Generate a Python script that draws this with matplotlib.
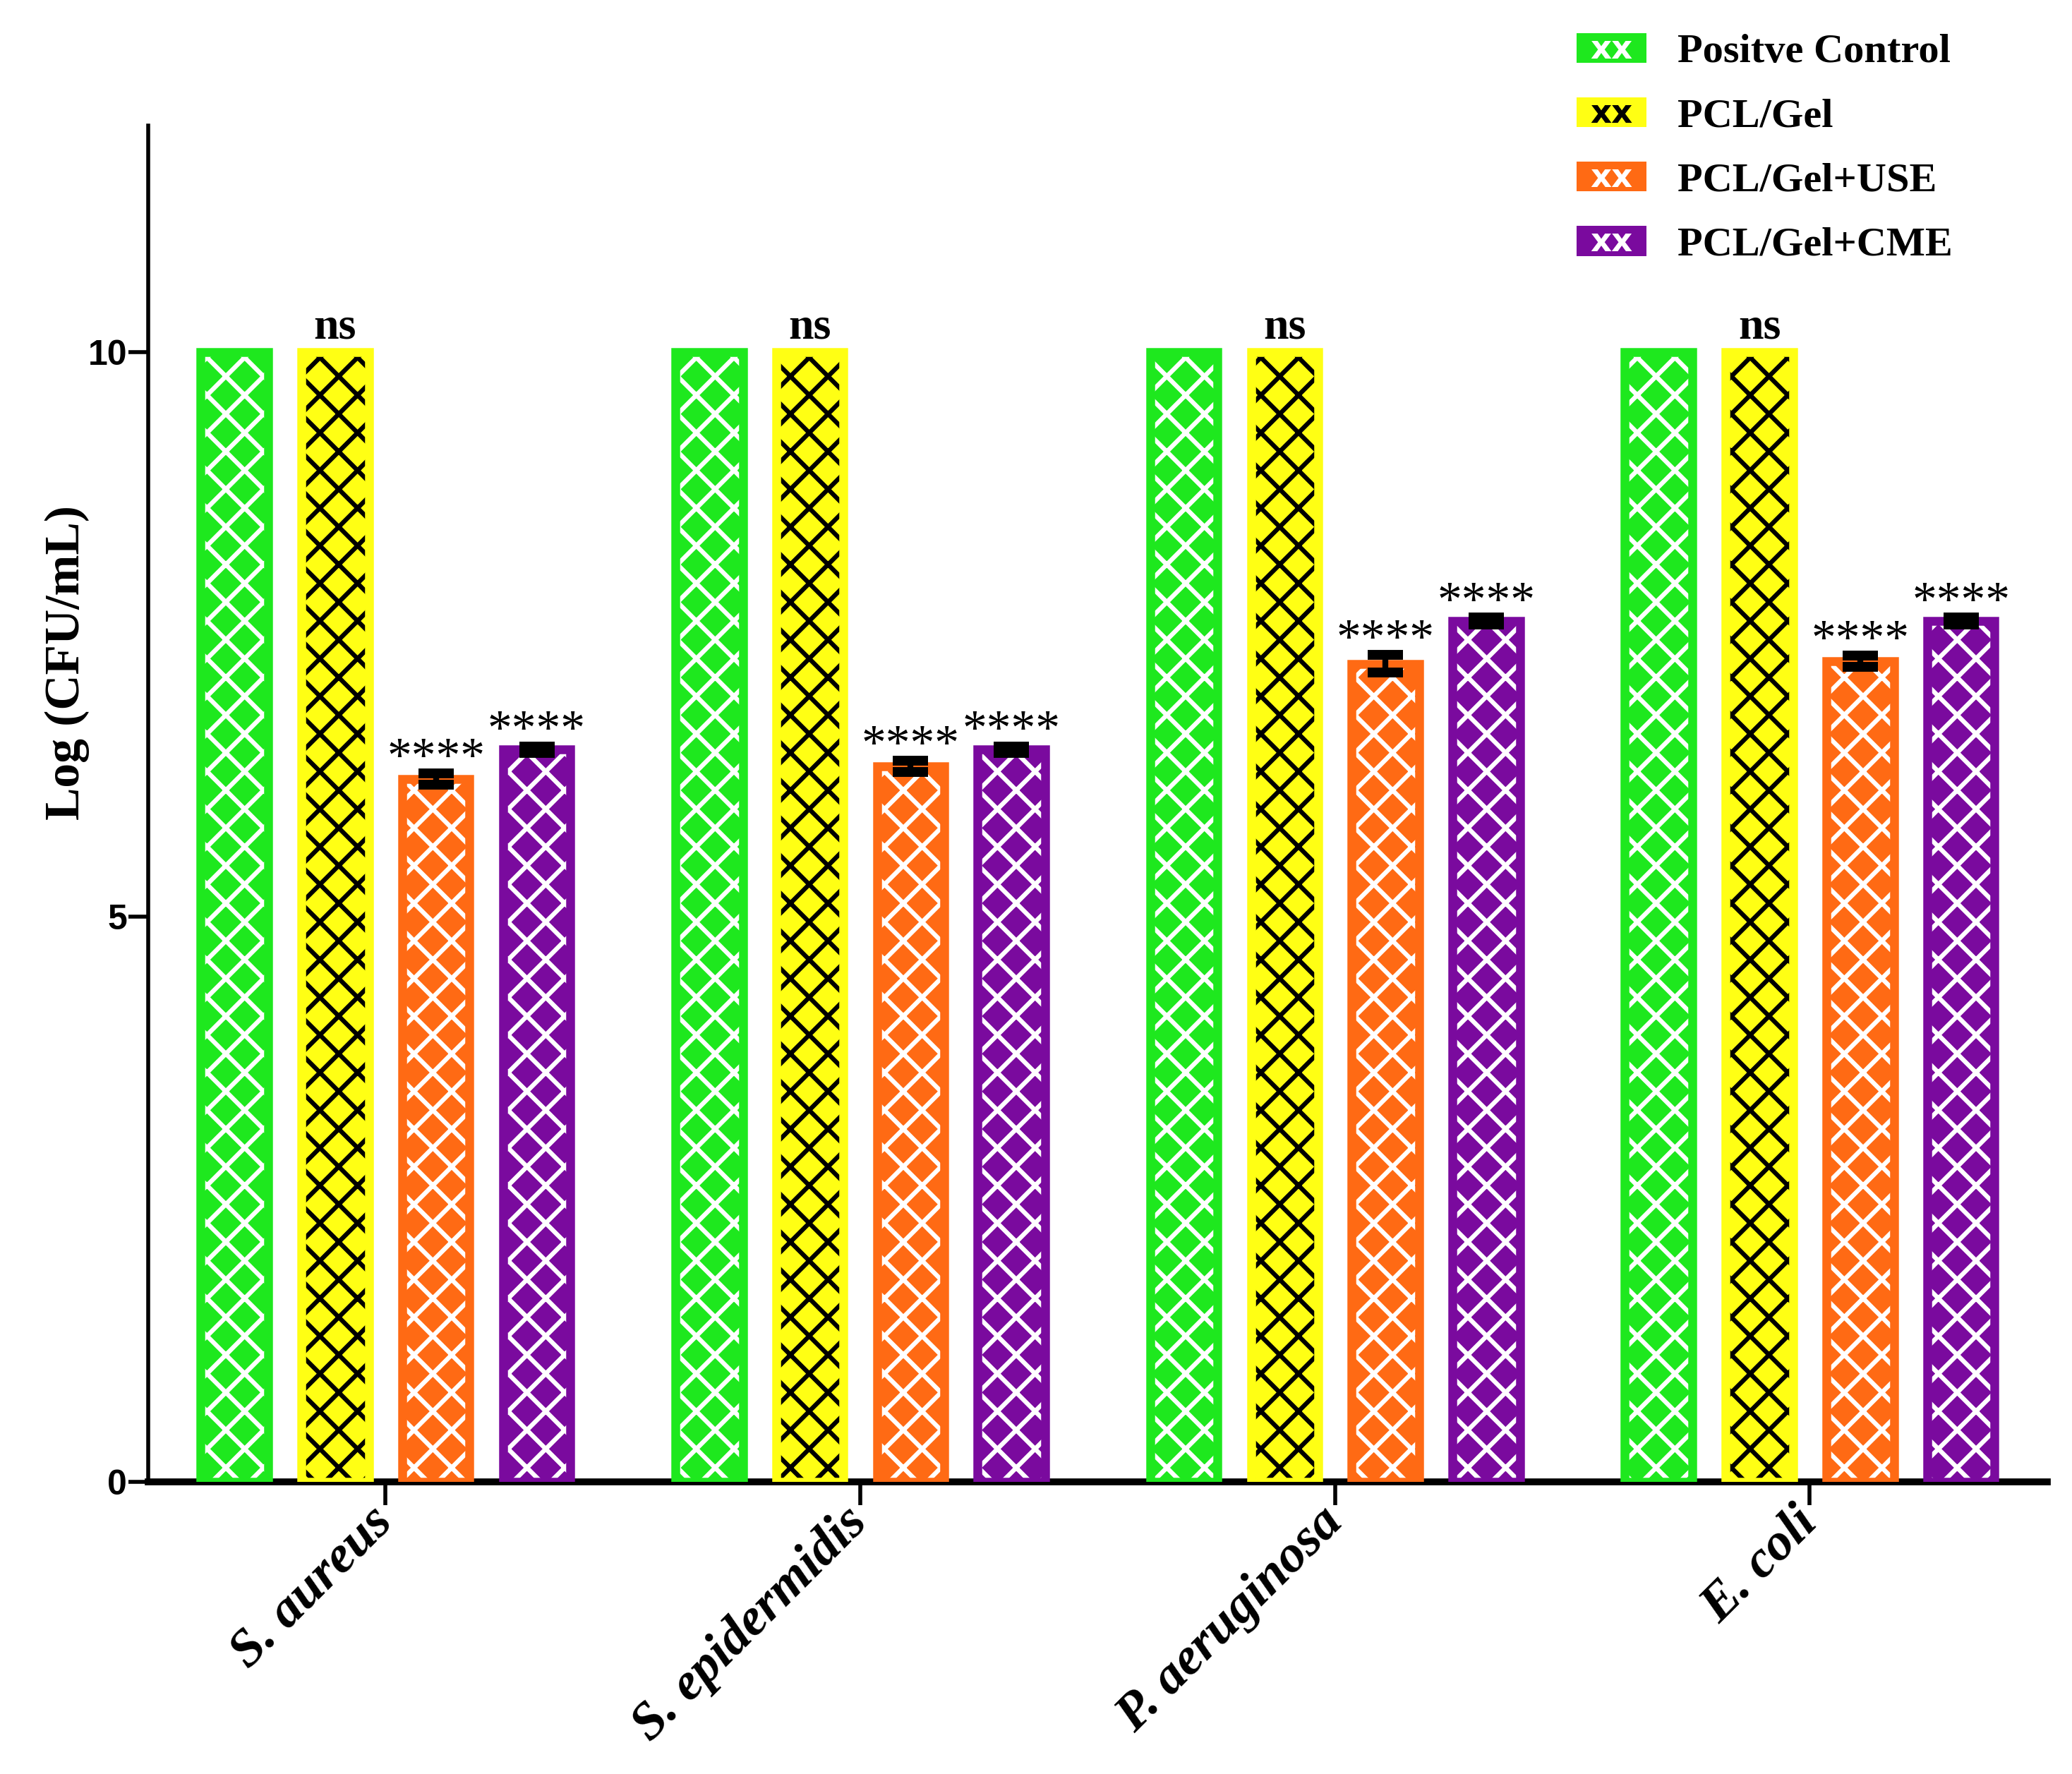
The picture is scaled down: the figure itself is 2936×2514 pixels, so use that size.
import numpy as np
import matplotlib
matplotlib.use('Agg')
import matplotlib.pyplot as plt
from matplotlib.patches import Patch, Rectangle
from matplotlib.text import Text
from matplotlib.legend_handler import HandlerBase

# data
groups = ['S. aureus', 'S. epidermidis', 'P. aeruginosa', 'E. coli']
series = ['Positve Control', 'PCL/Gel', 'PCL/Gel+USE', 'PCL/Gel+CME']
pos_ctrl = [10, 10, 10, 10]
pcl_gel = [10, 10, 10, 10]
pcl_use = [6.22, 6.33, 7.24, 7.26]
pcl_cme = [6.48, 6.48, 7.62, 7.62]
pos_err = [0, 0, 0, 0]
gel_err = [0, 0, 0, 0]
use_err = [0.05, 0.05, 0.08, 0.05]
cme_err = [0.03, 0.03, 0.03, 0.03]
signif = ['', 'ns', '****', '****']

colors = ['#1EE81E', '#FFFF14', '#FF6A14', '#7A0A9E']
hatch_colors = ['white', 'black', 'white', 'white']

# hatch spacing follows the dpi, so render at a lower dpi on a bigger canvas
DPI = 160
f = 200 / DPI   # point sizes below are tuned for 200 dpi

plt.rcParams['hatch.linewidth'] = 2.3 * f

fig = plt.figure(figsize=(2936 / DPI, 2514 / DPI), dpi=DPI)
ax = fig.add_axes([0.0715, 0.1647, 0.9165, 0.7643])

x = np.arange(len(groups))
pitch = 0.2123
width = 0.142
values = [pos_ctrl, pcl_gel, pcl_use, pcl_cme]
errors = [pos_err, gel_err, use_err, cme_err]

for k, (vals, errs) in enumerate(zip(values, errors)):
    xs = x + (k - 1.5) * pitch
    # hatched fill, then coloured outline on top
    ax.bar(xs, vals, width, color=colors[k], edgecolor=hatch_colors[k],
           hatch='x', linewidth=0, zorder=2)
    ax.bar(xs, vals, width, facecolor='none', edgecolor=colors[k],
           linewidth=4.5 * f, zorder=3)
    if any(e > 0 for e in errs):
        ax.errorbar(xs, vals, yerr=errs, fmt='none', ecolor='black',
                    elinewidth=3 * f, capsize=9 * f, capthick=5 * f, zorder=4)
    if signif[k]:
        for xi, v, e in zip(xs, vals, errs):
            if signif[k] == 'ns':
                ax.text(xi, v + 0.12, 'ns', ha='center', va='baseline',
                        fontsize=23 * f, fontweight='bold',
                        family='Liberation Serif')
            else:
                ax.text(xi, v + e + 0.02, signif[k], ha='center',
                        va='baseline', fontsize=25 * f,
                        family='Liberation Serif')

ax.set_xlim(-0.5, 3.5)
ax.set_ylim(0, 12)
ax.set_yticks([0, 5, 10])
ax.set_yticklabels(['0', '5', '10'], fontsize=18 * f, fontweight='bold',
                   family='Liberation Sans')
ax.set_xticks(x)
ax.set_xticklabels(groups, rotation=45, ha='right', va='center',
                   rotation_mode='anchor', fontsize=27 * f, fontweight='bold',
                   fontstyle='italic', family='Liberation Serif')
ax.tick_params(axis='y', length=10 * f, width=2 * f, pad=1)
ax.tick_params(axis='x', length=12 * f, width=2 * f, pad=5 * f)
ax.spines['top'].set_visible(False)
ax.spines['right'].set_visible(False)
ax.spines['left'].set_linewidth(2 * f)
ax.spines['bottom'].set_linewidth(3.5 * f)
ax.set_ylabel('Log (CFU/mL)', fontsize=25 * f, fontweight='bold',
              family='Liberation Serif')
ax.yaxis.set_label_coords(-0.031, 0.604)


class BoxX(HandlerBase):
    def __init__(self, xcolor):
        super().__init__()
        self.xcolor = xcolor

    def create_artists(self, legend, orig_handle, xdescent, ydescent,
                       width, height, fontsize, trans):
        r = Rectangle((-xdescent, -ydescent), width, height,
                      facecolor=orig_handle.get_facecolor(),
                      edgecolor='none', transform=trans)
        t = Text(-xdescent + width / 2, -ydescent + height / 2 - 1, 'xx',
                 color=self.xcolor, ha='center', va='center',
                 fontsize=fontsize * 0.8, fontweight='bold',
                 family='DejaVu Sans', transform=trans)
        return [r, t]


handles = [Patch(facecolor=c) for c in colors]
hmap = {h: BoxX(hc) for h, hc in zip(handles, hatch_colors)}
leg = fig.legend(handles, series, handler_map=hmap,
                 loc='upper left', bbox_to_anchor=(0.745, 1.0),
                 frameon=False, handlelength=1.7, handleheight=0.75,
                 handletextpad=0.75, labelspacing=0.64, borderpad=0.3,
                 prop={'family': 'Liberation Serif', 'weight': 'bold',
                       'size': 21 * f})

fig.savefig('out.png', dpi=DPI)
